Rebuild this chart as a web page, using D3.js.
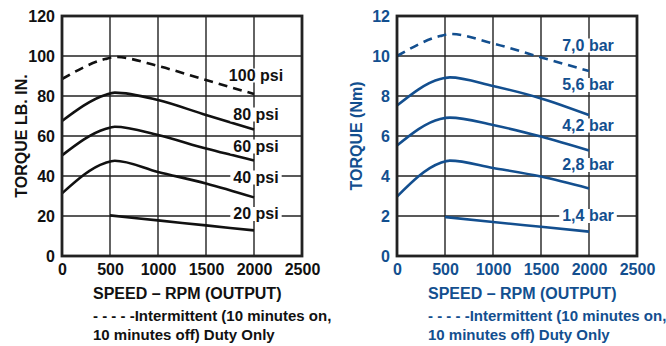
<!DOCTYPE html>
<html><head><meta charset="utf-8">
<script src="https://cdn.jsdelivr.net/npm/d3@7/dist/d3.min.js"></script>
<style>
html,body{margin:0;padding:0;background:#fff;}
svg text{font-family:"Liberation Sans Narrow","Arial Narrow","Liberation Sans",Arial,sans-serif;font-weight:bold;}
</style></head>
<body>
<svg id="c" width="666" height="346"></svg>
<script>
// ---- data ----
const speedTicks = [0, 500, 1000, 1500, 2000, 2500];
const psiTicks = [0, 20, 40, 60, 80, 100, 120];
const nmTicks = [0, 2, 4, 6, 8, 10, 12];
const fullSpeeds = [0, 450, 550, 1000, 1500, 2000];
const lowSpeeds = [500, 1000, 1500, 2000];

const psiLabels = ["100 psi", "80 psi", "60 psi", "40 psi", "20 psi"];
const psi100 = [88.5, 98.5, 99.5, 95, 88, 81];
const psi80 = [67.5, 80.5, 81.7, 78, 70.5, 63.3];
const psi60 = [50.3, 63.5, 64.6, 60.5, 53.7, 47.8];
const psi40 = [31.3, 46.5, 47.6, 42, 36.3, 29.3];
const psi20 = [20.3, 17.8, 15.3, 12.8];
const psiLabelY = [75, 114, 146, 177, 213.5];

const barLabels = ["7,0 bar", "5,6 bar", "4,2 bar", "2,8 bar", "1,4 bar"];
const bar70 = [10.0, 11.0, 11.1, 10.63, 9.93, 9.25];
const bar56 = [7.52, 8.85, 8.93, 8.5, 7.88, 7.05];
const bar42 = [5.52, 6.85, 6.92, 6.55, 5.97, 5.27];
const bar28 = [2.97, 4.65, 4.77, 4.4, 3.97, 3.38];
const bar14 = [1.95, 1.7, 1.46, 1.22];
const barLabelY = [45, 84.5, 125, 164.5, 215.5];

const xTitle = "SPEED – RPM (OUTPUT)";
const noteLines = ["- - - - -Intermittent (10 minutes on,", "10 minutes off) Duty Only"];

// ---- drawing ----
const svg = d3.select("#c");

function panel(opts) {
  const {left, yMax, yTicks, yTitle, color, series, labels, labelY, labelX} = opts;
  const top = 16, bottom = 256, width = 240;
  const x = d3.scaleLinear().domain([0, 2500]).range([left, left + width]);
  const y = d3.scaleLinear().domain([0, yMax]).range([bottom, top]);
  const g = svg.append("g");

  // grid
  g.append("g").selectAll("line").data(speedTicks.slice(1, -1)).join("line")
    .attr("x1", d => x(d)).attr("x2", d => x(d)).attr("y1", top).attr("y2", bottom)
    .attr("stroke", "#222").attr("stroke-width", 1.4);
  g.append("g").selectAll("line").data(yTicks.slice(1, -1)).join("line")
    .attr("y1", d => y(d)).attr("y2", d => y(d)).attr("x1", left).attr("x2", left + width)
    .attr("stroke", "#222").attr("stroke-width", 1.4);

  // series lines
  const line = d3.line().x(d => x(d[0])).y(d => y(d[1])).curve(d3.curveMonotoneX);
  series.forEach(s => {
    g.append("path").datum(s.speeds.map((v, i) => [v, s.values[i]]))
      .attr("d", line).attr("fill", "none").attr("stroke", color)
      .attr("stroke-width", 2.6).attr("stroke-dasharray", s.dashed ? "9,6" : null);
  });

  // series labels with white background
  labels.forEach((t, i) => {
    const lg = g.append("g");
    const txt = lg.append("text").attr("x", labelX).attr("y", labelY[i] + 5.5)
      .attr("text-anchor", "middle").attr("font-size", 16).attr("fill", color).text(t);
    const bb = txt.node().getBBox();
    lg.insert("rect", "text").attr("x", bb.x - 3).attr("y", bb.y + 2)
      .attr("width", bb.width + 6).attr("height", bb.height - 3).attr("fill", "#fff");
  });

  // frame
  g.append("rect").attr("x", left).attr("y", top).attr("width", width).attr("height", bottom - top)
    .attr("fill", "none").attr("stroke", "#222").attr("stroke-width", 2.8);

  // axes
  const xa = g.append("g").attr("transform", `translate(0,${bottom})`)
    .call(d3.axisBottom(x).tickValues(speedTicks).tickSize(0).tickPadding(8).tickFormat(d3.format("d")));
  const ya = g.append("g").attr("transform", `translate(${left},0)`)
    .call(d3.axisLeft(y).tickValues(yTicks).tickSize(0).tickPadding(7).tickFormat(d3.format("d")));
  [xa, ya].forEach(a => {
    a.select(".domain").remove();
    a.selectAll("text").attr("font-size", 16).attr("fill", color)
      .attr("font-family", null);
  });
  xa.selectAll("text").attr("dy", "0.71em");

  // titles
  g.append("text").attr("x", left + 31).attr("y", 299).attr("font-size", 16)
    .attr("fill", color).text(xTitle);
  noteLines.forEach((t, i) => {
    g.append("text").attr("x", left + 31).attr("y", 320.5 + i * 19.5).attr("font-size", 15)
      .attr("fill", color).text(t);
  });
  g.append("text").attr("transform", `translate(${left - 35},136) rotate(-90)`)
    .attr("text-anchor", "middle").attr("font-size", 16).attr("fill", color).text(yTitle);
}

panel({
  left: 62, yMax: 120, yTicks: psiTicks, yTitle: "TORQUE LB. IN.", color: "#111",
  series: [
    {speeds: fullSpeeds, values: psi100, dashed: true},
    {speeds: fullSpeeds, values: psi80},
    {speeds: fullSpeeds, values: psi60},
    {speeds: fullSpeeds, values: psi40},
    {speeds: lowSpeeds, values: psi20}
  ],
  labels: psiLabels, labelY: psiLabelY, labelX: 256
});

panel({
  left: 397, yMax: 12, yTicks: nmTicks, yTitle: "TORQUE (Nm)", color: "#134f8f",
  series: [
    {speeds: fullSpeeds, values: bar70, dashed: true},
    {speeds: fullSpeeds, values: bar56},
    {speeds: fullSpeeds, values: bar42},
    {speeds: fullSpeeds, values: bar28},
    {speeds: lowSpeeds, values: bar14}
  ],
  labels: barLabels, labelY: barLabelY, labelX: 588
});
</script>
</body></html>
